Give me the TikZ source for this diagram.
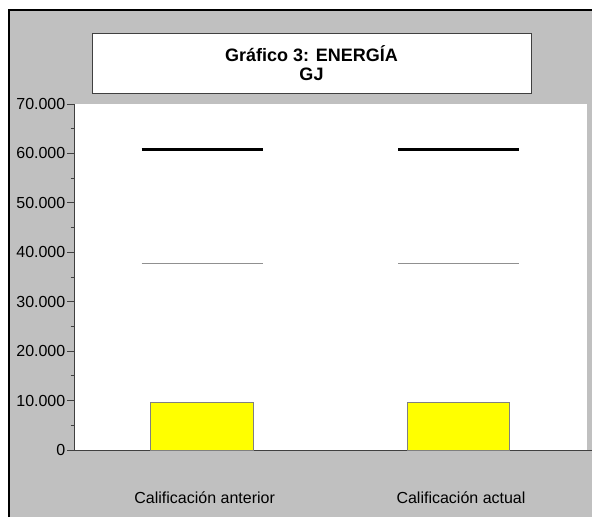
\documentclass[tikz,border=0pt]{standalone}
\usepackage{fontspec}
\setmainfont{Liberation Sans}
\definecolor{bggrey}{RGB}{192,192,192}
\definecolor{axisgrey}{RGB}{64,64,64}
\definecolor{barborder}{RGB}{128,128,128}
\definecolor{barfill}{RGB}{255,255,0}
\definecolor{thinline}{RGB}{144,144,144}
\begin{document}
\begin{tikzpicture}[x=1pt,y=-1pt,
  ticklabel/.style={anchor=east,inner sep=0pt,font=\fontsize{16}{18}\selectfont},
  catlabel/.style={inner sep=0pt,font=\fontsize{16}{18}\selectfont},
  titlebox/.style={draw=axisgrey,line width=0.8pt,fill=white},
  barbox/.style={draw=barborder,line width=0.7pt,fill=barfill},
  axisline/.style={draw=axisgrey,line width=0.8pt},
  thickmark/.style={line width=3pt,black},
  thinmark/.style={line width=1pt,thinline}]
\useasboundingbox (0,0) rectangle (592,517);
% background
\fill[white] (0,0) rectangle (592,517);
\fill[bggrey] (9,10) rectangle (592,517);
\draw[line width=2pt,black] (9,517) -- (9,10) -- (592,10);
% title box
\node[titlebox,minimum width=439pt,minimum height=60pt,inner sep=0pt,align=center,
  font=\fontsize{18}{18.5}\selectfont\bfseries] (title) at (311.5,63) {Gráfico 3: ENERGÍA\\GJ};
% plot area
\fill[white] (74,104) rectangle (587,450);
% axes
\coordinate (ytop) at (74,104);
\coordinate (ybot) at (74,450);
\coordinate (xend) at (592,450);
\draw[axisline] (ytop) -- (ybot);
\draw[axisline] (67,450) -- (xend);
\foreach \v/\lab [count=\i from 0] in {0/0,1/10.000,2/20.000,3/30.000,4/40.000,5/50.000,6/60.000,7/70.000}{
  \pgfmathsetmacro{\yy}{450-\v*49.43}
  \draw[axisline] (67,\yy) -- (74,\yy);
  \node[ticklabel] (tl\i) at (65.5,\yy) {\lab};
}
\foreach \v in {0.5,1.5,2.5,3.5,4.5,5.5,6.5}{
  \pgfmathsetmacro{\yy}{450-\v*49.43}
  \draw[axisline] (70.5,\yy) -- (74,\yy);
}
% bars
\draw[barbox] (150.7,450) rectangle (253.7,402.7);
\draw[barbox] (407,450) rectangle (509.7,402);
% markers
\draw[thickmark] (141.7,149.5) -- (262.7,149.5);
\draw[thickmark] (398,149.5) -- (519,149.5);
\draw[thinmark] (141.7,263.3) -- (262.7,263.3);
\draw[thinmark] (398,263.3) -- (519,263.3);
% category labels
\node[catlabel] (c1) at (204.7,498) {Calificación anterior};
\node[catlabel] (c2) at (461,498) {Calificación actual};
\end{tikzpicture}
\end{document}
